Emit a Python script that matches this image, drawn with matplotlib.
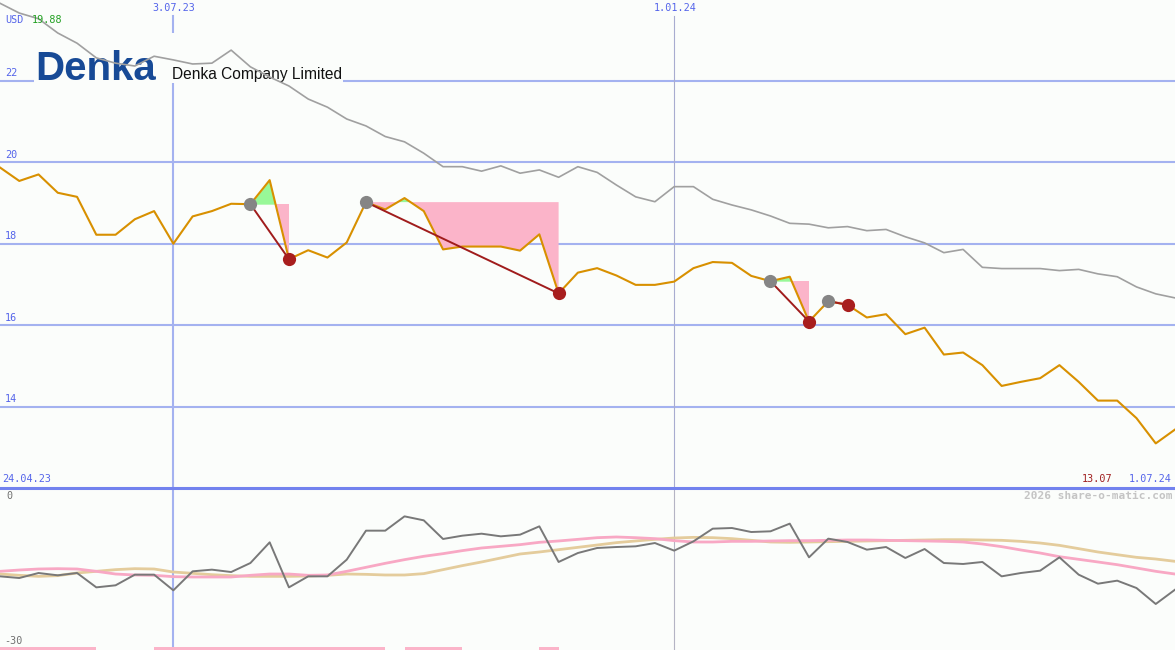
import numpy as np
import pandas as pd
import matplotlib
matplotlib.use("Agg")
import matplotlib.pyplot as plt
import matplotlib.dates as mdates
import matplotlib.transforms as mtransforms
from matplotlib.patches import Rectangle
from matplotlib.lines import Line2D

# weekly closes, Denka Company Limited (USD)
weeks = pd.date_range("2023-05-01", periods=62, freq="7D")

price = [19.87, 19.54, 19.70, 19.25, 19.15, 18.22, 18.22, 18.60, 18.80, 18.00,
         18.67, 18.80, 18.98, 18.97, 19.56, 17.62, 17.84, 17.66, 18.03, 19.02,
         18.84, 19.12, 18.80, 17.86, 17.93, 17.93, 17.93, 17.83, 18.23, 16.78,
         17.29, 17.40, 17.22, 16.99, 16.99, 17.07, 17.40, 17.55, 17.53, 17.21,
         17.08, 17.19, 16.09, 16.59, 16.50, 16.19, 16.27, 15.78, 15.94, 15.28,
         15.33, 15.02, 14.51, 14.61, 14.70, 15.02, 14.61, 14.15, 14.15, 13.72,
         13.10, 13.44]

avg_line = [23.90, 23.66, 23.52, 23.17, 22.92, 22.56, 22.43, 22.36, 22.60, 22.51,
            22.41, 22.43, 22.75, 22.34, 22.09, 21.87, 21.55, 21.35, 21.06, 20.89,
            20.63, 20.50, 20.22, 19.89, 19.89, 19.78, 19.91, 19.73, 19.81, 19.63,
            19.89, 19.75, 19.44, 19.15, 19.03, 19.40, 19.40, 19.09, 18.95, 18.83,
            18.68, 18.50, 18.48, 18.39, 18.42, 18.32, 18.35, 18.17, 18.02, 17.78,
            17.86, 17.42, 17.39, 17.39, 17.39, 17.34, 17.37, 17.26, 17.19, 16.94,
            16.77, 16.67]

# lower panel
osc = [-16.36, -16.67, -15.74, -16.17, -15.74, -18.40, -18.02, -16.05, -16.05, -18.95,
       -15.43, -15.12, -15.56, -13.89, -10.06, -18.40, -16.36, -16.36, -13.27, -7.90,
       -7.90, -5.25, -5.99, -9.44, -8.83, -8.46, -8.95, -8.64, -7.10, -13.70,
       -12.04, -11.11, -10.93, -10.80, -10.19, -11.60, -9.88, -7.53, -7.41, -8.15,
       -8.02, -6.60, -12.84, -9.38, -10.00, -11.42, -10.93, -12.96, -11.30, -13.89,
       -14.07, -13.70, -16.36, -15.74, -15.31, -12.84, -16.05, -17.72, -17.16, -18.52,
       -21.48, -18.83]

osc_pink = [-15.43, -15.19, -15.00, -14.94, -15.00, -15.43, -15.93, -16.11, -16.17, -16.42,
            -16.48, -16.48, -16.48, -16.17, -15.93, -15.93, -16.17, -16.11, -15.43, -14.69,
            -13.95, -13.27, -12.65, -12.16, -11.60, -11.11, -10.80, -10.49, -10.06, -9.81,
            -9.51, -9.20, -9.07, -9.20, -9.38, -9.75, -10.00, -10.00, -9.88, -9.88,
            -9.81, -9.75, -9.75, -9.69, -9.63, -9.63, -9.69, -9.75, -9.81, -9.88,
            -10.00, -10.37, -10.86, -11.48, -12.04, -12.72, -13.21, -13.70, -14.20, -14.81,
            -15.43, -15.93]

osc_tan = [-15.93, -16.17, -16.36, -16.23, -15.74, -15.43, -15.12, -14.94, -15.00, -15.56,
           -15.80, -16.05, -16.23, -16.36, -16.36, -16.36, -16.30, -16.17, -15.93, -15.99,
           -16.11, -16.11, -15.86, -15.12, -14.38, -13.70, -12.96, -12.22, -11.85, -11.42,
           -10.99, -10.56, -10.12, -9.81, -9.51, -9.26, -9.14, -9.20, -9.38, -9.69,
           -10.00, -10.06, -10.00, -9.94, -9.88, -9.81, -9.75, -9.69, -9.63, -9.57,
           -9.57, -9.63, -9.69, -9.88, -10.19, -10.62, -11.23, -11.85, -12.35, -12.84,
           -13.15, -13.58]

# drawdown signals: week of the grey dot and week of the red dot
sig_start = [13, 19, 40, 43]
sig_end = [15, 29, 42, 44]

# weeks flagged by the pink strips along the bottom
flag_from = [0, 8, 21, 28]
flag_to = [5, 20, 24, 29]

price_ticks = [14, 16, 18, 20, 22]
marked_dates = ["2023-07-03", "2024-01-01"]

W, H = 1175, 650
bg = "#fbfdfb"
grid_col = "#a4b2f0"
lbl_col = "#5464ea"
pink = "#fbb4c9"
green = "#98f898"
mono = "DejaVu Sans Mono"

x = mdates.date2num(weeks)
price = np.array(price)
x_jul = mdates.date2num(pd.Timestamp(marked_dates[0]))
x_jan = mdates.date2num(pd.Timestamp(marked_dates[1]))


def fy(py):
    # pixel row from top -> figure fraction
    return 1 - py / H


fig = plt.figure(figsize=(W / 100, H / 100), dpi=100, facecolor=bg)

# ---- price panel ----
ax = fig.add_axes([0, 163 / H, 1, 487 / H])
ax.set_facecolor(bg)
for s in ax.spines.values():
    s.set_visible(False)
ax.set_xticks([])
ax.set_yticks([])
ax.set_xlim(x[0], x[-1])
ax.set_ylim(12.03, 23.98)

trans = mtransforms.blended_transform_factory(ax.transAxes, ax.transData)
for t in price_ticks:
    ax.axhline(t, color=grid_col, lw=1.5, zorder=1)
    ax.text(0.004, t + 0.06, str(t), transform=trans, color=lbl_col,
            family=mono, fontsize=7.3, va="bottom", ha="left", zorder=1)

ax.axvline(x_jul, ymax=1 - 16 / 487, color=grid_col, lw=1.5, zorder=1)
ax.axvline(x_jan, ymax=1 - 16 / 487, color="#a8acd0", lw=0.8, zorder=1)

# blank box behind the logo
ax.add_patch(Rectangle((34 / W, 1 - 83 / 487), (343 - 34) / W, 50 / 487,
                       transform=ax.transAxes, facecolor=bg, edgecolor="none",
                       zorder=1.5))

# logo and name sit under the average line
ax.text(35 / W, fy(80), "Denka", fontsize=29, fontweight="bold",
        family="Liberation Sans", color="#174a96", va="baseline",
        transform=fig.transFigure, zorder=3)
ax.text(172 / W, fy(79), "Denka Company Limited", fontsize=11.2,
        family="Liberation Sans", color="#111111", va="baseline",
        transform=fig.transFigure, zorder=3)

# signal fills
for a, b in zip(sig_start, sig_end):
    xs = x[a:b + 1]
    ys = price[a:b + 1]
    lvl = price[a]
    ax.fill_between(xs, lvl, ys, where=ys <= lvl, interpolate=True,
                    color=pink, lw=0, zorder=2)
    ax.fill_between(xs, lvl, ys, where=ys >= lvl, interpolate=True,
                    color=green, lw=0, zorder=2)

ax.plot(x, avg_line, color="#a0a0a0", lw=1.2, zorder=4)
ax.plot(x, price, color="#d89000", lw=1.5, zorder=5)

for a, b in zip(sig_start, sig_end):
    ax.plot([x[a], x[b]], [price[a], price[b]], color="#a01c1c", lw=1.4, zorder=6)
    ax.plot(x[a], price[a], "o", color="#858585", ms=9.5, mec="none", zorder=7)
    ax.plot(x[b], price[b], "o", color="#a81e1e", ms=9.5, mec="none", zorder=7)

# ---- lower panel ----
ax2 = fig.add_axes([0, 0, 1, 162 / H])
ax2.set_facecolor(bg)
for s in ax2.spines.values():
    s.set_visible(False)
ax2.set_xticks([])
ax2.set_yticks([])
ax2.set_xlim(x[0], x[-1])
ax2.set_ylim(-30, 0)

ax2.axvline(x_jul, color=grid_col, lw=1.5, zorder=1)
ax2.axvline(x_jan, color="#b4b4c4", lw=0.8, zorder=1)

ax2.plot(x, osc_tan, color="#e4cc9c", lw=2, zorder=3)
ax2.plot(x, osc_pink, color="#f8a8c4", lw=2, zorder=3)
ax2.plot(x, osc, color="#787878", lw=1.4, zorder=4)

for a, b in zip(flag_from, flag_to):
    ax2.fill_between([x[a], x[b]], -30, -29.45, color=pink, lw=0, zorder=2)

# separator between panels
fig.add_artist(Line2D([0, 1], [fy(487.5), fy(487.5)], color="#7282ee", lw=2.2))

# ---- texts ----
fig.text(5 / W, fy(20), "USD", color=lbl_col, family=mono, fontsize=7.3, va="center")
fig.text(32 / W, fy(20), "19.88", color="#22a022", family=mono, fontsize=7.3, va="center")
fig.text(174 / W, fy(8), "3.07.23", color=lbl_col, family=mono, fontsize=7.3,
         va="center", ha="center")
fig.text(675 / W, fy(8), "1.01.24", color=lbl_col, family=mono, fontsize=7.3,
         va="center", ha="center")
fig.text(2 / W, fy(479), "24.04.23", color=lbl_col, family=mono, fontsize=7.3, va="center")
fig.text(1112 / W, fy(479), "13.07", color="#a02020", family=mono, fontsize=7.3,
         va="center", ha="right")
fig.text(1172 / W, fy(479), "1.07.24", color=lbl_col, family=mono, fontsize=7.3,
         va="center", ha="right")
fig.text(1172 / W, fy(496), "2026 share-o-matic.com", color="#c4c4c4", family=mono,
         fontsize=8, fontweight="bold", va="center", ha="right")
fig.text(6 / W, fy(496), "0", color="#707070", family=mono, fontsize=7.3, va="center")
fig.text(4 / W, fy(641), "-30", color="#707070", family=mono, fontsize=7.3, va="center")

fig.savefig("out.png", dpi=100, facecolor=bg)
